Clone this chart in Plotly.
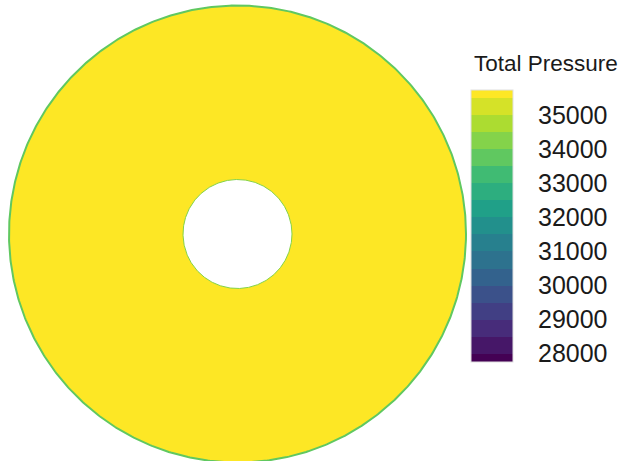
import numpy as np
import plotly.graph_objects as go
from plotly.colors import sample_colorscale

# Annular cross-section geometry (normalised to the outer radius)
OUTER_RADIUS = 1.0
INNER_RADIUS = 0.2385

# Total pressure values (Pa)
CORE_PRESSURE = 35620        # bulk of the annulus
OUTER_WALL_PRESSURE = 33800  # thin boundary layer on the outer wall
INNER_WALL_PRESSURE = 34200  # thin boundary layer on the inner wall

# Contour band edges and colour bar ticks
LEVEL_EDGES = [27750, 28000, 28500, 29000, 29500, 30000, 30500, 31000, 31500,
               32000, 32500, 33000, 33500, 34000, 34500, 35000, 35500, 35750]
TICK_VALUES = [28000, 29000, 30000, 31000, 32000, 33000, 34000, 35000]
TICK_LABELS = ["28000", "29000", "30000", "31000", "32000", "33000", "34000", "35000"]

PMIN, PMAX = LEVEL_EDGES[0], LEVEL_EDGES[-1]
BANDS = list(zip(LEVEL_EDGES[:-1], LEVEL_EDGES[1:]))


def norm(p):
    return (p - PMIN) / (PMAX - PMIN)


# Discrete (banded) viridis scale: one flat colour per contour band
n_bands = len(BANDS)
band_cols = sample_colorscale("Viridis", [k / (n_bands - 1) for k in range(n_bands)])
banded_scale = []
for (a, b), c in zip(BANDS, band_cols):
    banded_scale.append([norm(a), c])
    banded_scale.append([norm(b), c])


def band_colour(p):
    for (a, b), c in zip(BANDS, band_cols):
        if a <= p <= b:
            return c
    return band_cols[-1]


theta = np.linspace(0, 2 * np.pi, 721)
ox, oy = OUTER_RADIUS * np.cos(theta), OUTER_RADIUS * np.sin(theta)
ix, iy = INNER_RADIUS * np.cos(theta), INNER_RADIUS * np.sin(theta)

fig = go.Figure()

# Annulus filled with the core total pressure colour
fig.add_trace(go.Scatter(
    x=np.concatenate([ox, ix[::-1]]), y=np.concatenate([oy, iy[::-1]]),
    mode="lines", fill="toself", fillcolor=band_colour(CORE_PRESSURE),
    line=dict(width=0), hoverinfo="skip", showlegend=False))

# Wall boundary layers (lower total pressure)
fig.add_trace(go.Scatter(
    x=ox, y=oy, mode="lines",
    line=dict(color=band_colour(OUTER_WALL_PRESSURE), width=2),
    hoverinfo="skip", showlegend=False))
fig.add_trace(go.Scatter(
    x=ix, y=iy, mode="lines",
    line=dict(color=band_colour(INNER_WALL_PRESSURE), width=1),
    hoverinfo="skip", showlegend=False))

# Colour bar carrier
fig.add_trace(go.Scatter(
    x=[0], y=[0], mode="markers",
    marker=dict(size=0.1, opacity=0, color=[CORE_PRESSURE],
                colorscale=banded_scale, cmin=PMIN, cmax=PMAX, showscale=True,
                colorbar=dict(
                    x=471 / 619, xanchor="left", xref="paper",
                    y=1 - 362 / 461, yanchor="bottom",
                    len=272, lenmode="pixels",
                    thickness=42, thicknessmode="pixels",
                    outlinewidth=1, outlinecolor="#e0e0e0",
                    tickvals=TICK_VALUES, ticktext=TICK_LABELS,
                    ticks="outside", ticklen=20, tickcolor="rgba(0,0,0,0)",
                    tickfont=dict(size=25, color="#1a1a1a"),
                    bgcolor="rgba(0,0,0,0)", borderwidth=0, xpad=0, ypad=0)),
    hoverinfo="skip", showlegend=False))

fig.add_annotation(
    text="Total Pressure", xref="paper", yref="paper",
    x=472 / 619, y=1 - 63 / 461, xanchor="left", yanchor="middle",
    showarrow=False, font=dict(size=22.5, color="#1a1a1a"))

fig.update_layout(
    width=619, height=461,
    margin=dict(l=0, r=0, t=0, b=0, autoexpand=False),
    paper_bgcolor="white", plot_bgcolor="white",
    font=dict(family="Liberation Sans, Arial, sans-serif"),
    xaxis=dict(range=[-1.0394, 1.6696], visible=False, domain=[0, 1]),
    yaxis=dict(range=[-0.9934, 1.0241], visible=False, domain=[0, 1]),
)

fig.write_html("out.html")
